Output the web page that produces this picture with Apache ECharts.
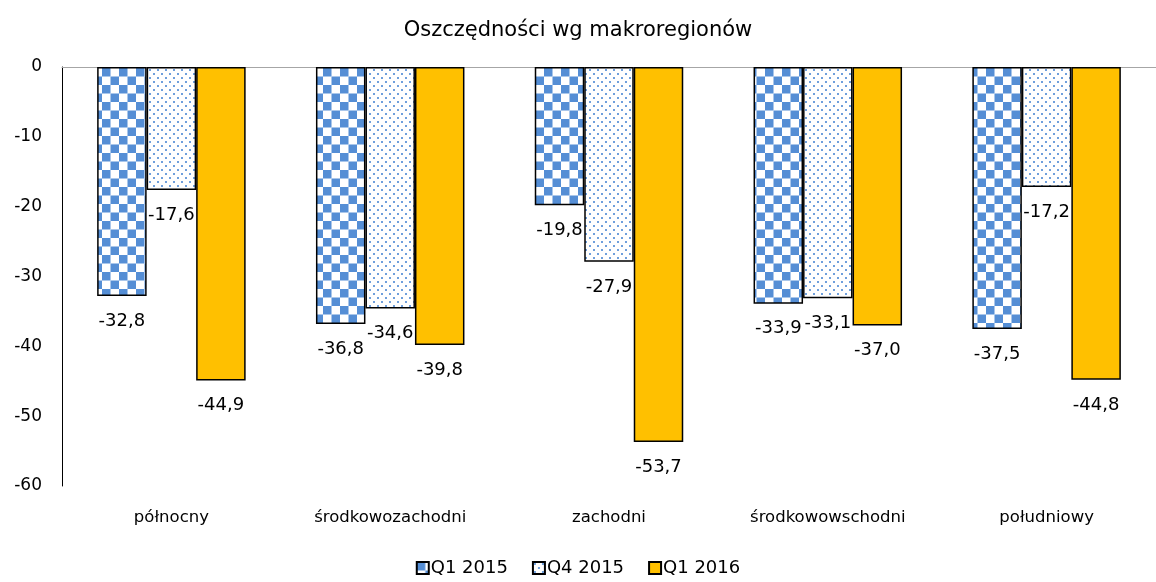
<!DOCTYPE html>
<html>
<head>
<meta charset="utf-8">
<script src="https://cdn.jsdelivr.net/npm/echarts@6/dist/echarts.min.js"></script>
<style>
  html, body { margin: 0; padding: 0; background: #fff; }
  #main { width: 1156px; height: 582px; }
</style>
</head>
<body>
<div id="main"></div>
<script>
// dane
var regions = ['północny', 'środkowozachodni', 'zachodni', 'środkowowschodni', 'południowy'];
var q1_2015 = [-32.8, -36.8, -19.8, -33.9, -37.5];
var q4_2015 = [-17.6, -34.6, -27.9, -33.1, -17.2];
var q1_2016 = [-44.9, -39.8, -53.7, -37.0, -44.8];
var yTicks = [0, -10, -20, -30, -40, -50, -60];

var FONT = 'DejaVu Sans';

// wzory wypelnienia
function checkerPattern() {
  var c = document.createElement('canvas');
  c.width = 17; c.height = 17;
  var ctx = c.getContext('2d');
  ctx.fillStyle = '#ffffff';
  ctx.fillRect(0, 0, 17, 17);
  ctx.fillStyle = '#558ed5';
  ctx.fillRect(0, 0, 8.5, 8.5);
  ctx.fillRect(8.5, 8.5, 8.5, 8.5);
  return c;
}
function dotPattern() {
  var c = document.createElement('canvas');
  c.width = 8; c.height = 8;
  var ctx = c.getContext('2d');
  ctx.fillStyle = '#ffffff';
  ctx.fillRect(0, 0, 8, 8);
  ctx.fillStyle = '#6f9fdc';
  ctx.fillRect(1, 1, 2, 2);
  ctx.fillRect(5, 5, 2, 2);
  return c;
}

function fmt(p) {
  return p.value.toFixed(1).replace('.', ',');
}

var chart = echarts.init(document.getElementById('main'));

function barSeries(name, data, fill) {
  return {
    name: name,
    type: 'bar',
    data: data,
    barWidth: 49.5,
    barGap: '0%',
    itemStyle: {
      color: fill,
      borderColor: '#000',
      borderWidth: 1.5
    },
    label: {
      show: true,
      position: 'bottom',
      distance: 16,
      formatter: fmt,
      color: '#000',
      fontFamily: FONT,
      fontSize: 18
    }
  };
}

var option = {
  animation: false,
  backgroundColor: '#fff',
  title: {
    text: 'Oszczędności wg makroregionów',
    left: 'center',
    top: 15,
    textStyle: { fontFamily: FONT, fontSize: 21, fontWeight: 'normal', color: '#000' }
  },
  legend: {
    bottom: 0,
    left: 'center',
    icon: 'rect',
    itemWidth: 12,
    itemHeight: 12,
    itemGap: 24,
    textStyle: { fontFamily: FONT, fontSize: 18, color: '#000', padding: [0, 0, 0, -3] },
    data: ['Q1 2015', 'Q4 2015', 'Q1 2016']
  },
  grid: { left: 62, top: 67, width: 1106, height: 419 },
  xAxis: [{
    type: 'category',
    data: regions,
    position: 'bottom',
    axisLine: { show: false },
    axisTick: { show: false },
    axisLabel: { margin: 23, fontFamily: FONT, fontSize: 16.5, color: '#000', interval: 0 }
  }, {
    type: 'category',
    data: regions,
    position: 'top',
    axisLine: { show: true, lineStyle: { color: '#a6a6a6', width: 1 } },
    axisTick: { show: false },
    axisLabel: { show: false }
  }],
  yAxis: {
    type: 'value',
    min: -60,
    max: 0,
    interval: 10,
    axisLine: { show: true, lineStyle: { color: '#000', width: 1 } },
    axisTick: { show: false },
    splitLine: { show: false },
    axisLabel: { margin: 20, fontFamily: FONT, fontSize: 17, color: '#000' }
  },
  series: [
    barSeries('Q1 2015', q1_2015, { image: checkerPattern(), repeat: 'repeat' }),
    barSeries('Q4 2015', q4_2015, { image: dotPattern(), repeat: 'repeat' }),
    barSeries('Q1 2016', q1_2016, '#ffc000')
  ]
};

chart.setOption(option);
</script>
</body>
</html>
